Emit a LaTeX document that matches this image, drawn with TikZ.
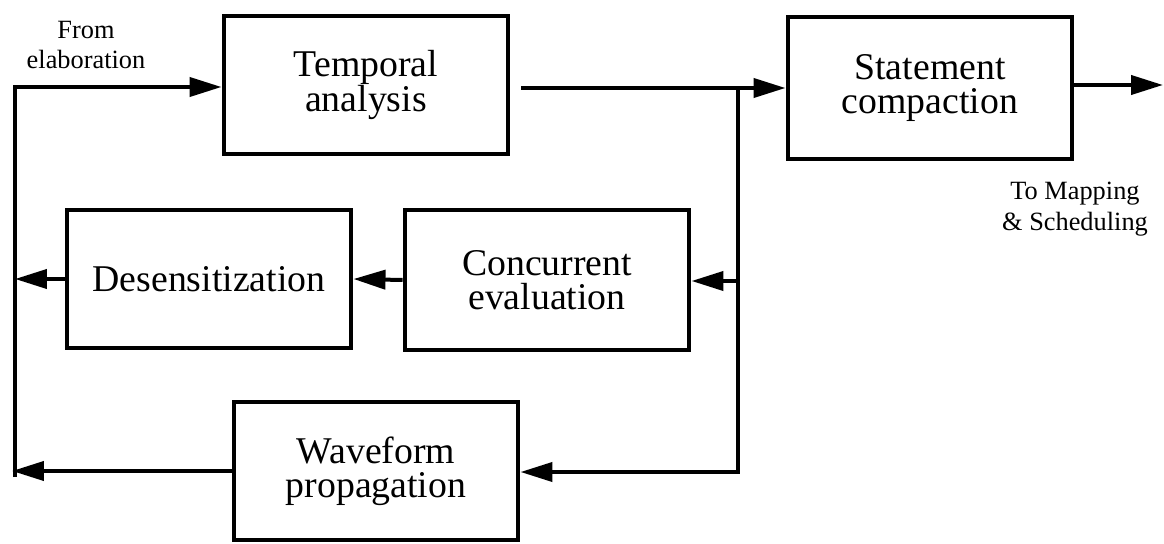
\documentclass[tikz,border=0pt]{standalone}
\usepackage{fontspec}
\setmainfont{Liberation Serif}
\usetikzlibrary{arrows.meta}

\begin{document}
\begin{tikzpicture}[x=0.02cm, y=-0.02cm,
  blockbox/.style={draw, line width=0.08cm, minimum width=5.7cm, minimum height=2.76cm,
    align=center, inner sep=0pt, font=\fontsize{21.5}{19.5}\selectfont},
  note/.style={align=center, inner sep=0pt, font=\fontsize{15}{17.5}\selectfont},
  link/.style={line width=0.08cm, line join=miter},
  flow/.style={link, -{Triangle[length=0.64cm, width=0.38cm]}}]
  \useasboundingbox (0,0) rectangle (1164,544);
  \node[blockbox] (temporal) at (366,85) {Temporal\\analysis};
  \node[blockbox, minimum height=2.86cm] (statement) at (930,88) {Statement\\compaction};
  \node[blockbox] (desens) at (209,279) {Desensitization};
  \node[blockbox, minimum height=2.8cm] (concurrent) at (547,280) {Concurrent\\evaluation};
  \node[blockbox] (waveform) at (376,471) {Waveform\\propagation};
  \node[note] (fromlbl) at (86,45) {From\\elaboration};
  \node[note] (tolbl) at (1075,209) {To Mapping\\\& Scheduling};
  \coordinate (topleft) at (15,87);
  \coordinate (botleft) at (15,477);
  \coordinate (split) at (738,88);
  \coordinate (splitmid) at (738,281);
  \coordinate (splitbot) at (738,472);
  \coordinate (exit) at (1163,85);
  \draw[flow] (botleft) -- (topleft) -- (topleft -| temporal.west);
  \draw[flow, shorten <=0.22cm] (temporal.east |- split) -- (split -| statement.west);
  \draw[flow] (split) -- (splitbot) -- (splitbot -| waveform.east);
  \draw[flow] (splitmid) -- (splitmid -| concurrent.east);
  \draw[flow] (concurrent.west) -- (desens.east);
  \draw[flow] (desens.west) -- (desens.west -| topleft);
  \draw[flow] (waveform.west) -- ([xshift=-0.06cm]waveform.west -| botleft);
  \draw[flow] (statement.east |- exit) -- (exit);
\end{tikzpicture}
\end{document}
